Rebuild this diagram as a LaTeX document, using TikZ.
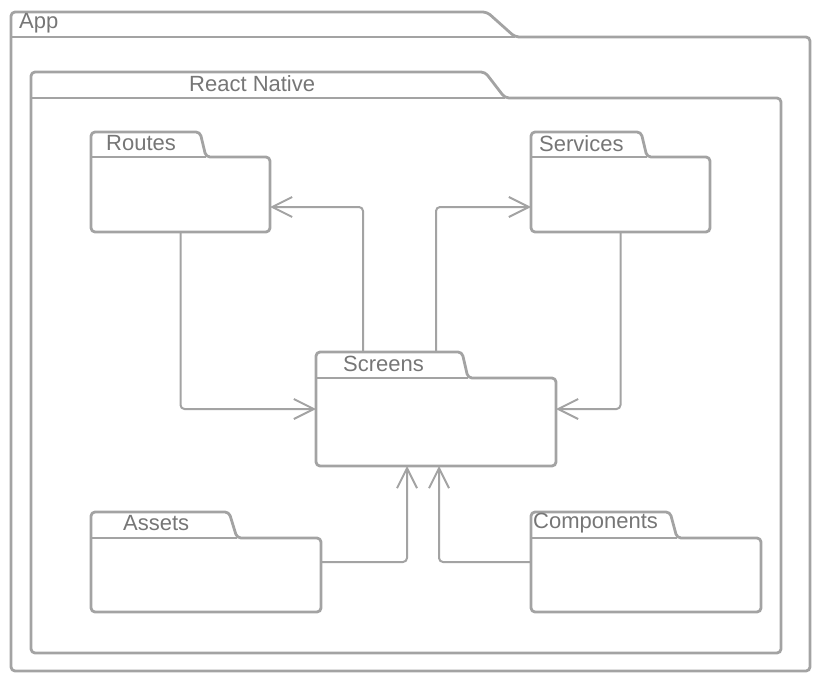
\documentclass[tikz,border=0pt]{standalone}
\usepackage{fontspec}
\setmainfont{Liberation Sans}
\usetikzlibrary{arrows.meta}
\definecolor{lineg}{HTML}{A3A3A3}
\definecolor{textg}{HTML}{767676}
\tikzset{
  folderline/.style={draw=lineg, line width=2.8pt, rounded corners=4pt, line join=round},
  folderbox/.style={inner sep=0pt, outer sep=0pt},
  foldertext/.style={anchor=west, inner sep=0pt, text=textg, font=\fontsize{22pt}{24pt}\selectfont},
  conn/.style={draw=lineg, line width=2pt, rounded corners=4pt, -{Straight Barb[length=20pt,width=20pt,line width=2pt]}},
}
% name, x1, ytab, xtab, xslant, ybody, x2, y2
\newcommand\pkgfolder[8]{%
  \draw[folderline] (#2,#6) -- (#2,#3) -- (#4,#3) -- (#5,#6) -- (#7,#6) -- (#7,#8) -- (#2,#8) -- cycle;
  \draw[draw=lineg, line width=2.8pt] (#2,#6) -- (#5,#6);
  \pgfmathsetmacro\fw{#7-#2}\pgfmathsetmacro\fh{#8-#3}%
  \node[folderbox, minimum width=\fw pt, minimum height=\fh pt] (#1) at ({(#2+#7)/2},{(#3+#8)/2}) {};
}
\begin{document}
\begin{tikzpicture}[x=1pt,y=-1pt]
\useasboundingbox (0,0) rectangle (818,682);
\pkgfolder{app}{11}{12}{487}{515}{37}{810}{671}
\pkgfolder{rn}{31}{72}{485}{505}{98}{781}{653}
\pkgfolder{routes}{91}{132}{200}{206}{157}{270}{232}
\pkgfolder{services}{531}{132}{641}{647}{157}{710}{232}
\pkgfolder{screens}{316}{352}{462}{468}{378}{556}{466}
\pkgfolder{assets}{91}{512}{229}{237}{538}{321}{612}
\pkgfolder{components}{531}{512}{670}{677}{538}{761}{612}
\node[foldertext] (lapp) at (19,23.5) {App};
\node[foldertext] (lrn) at (189,83.5) {React Native};
\node[foldertext] (lroutes) at (106,143.5) {Routes};
\node[foldertext] (lservices) at (539,143.5) {Services};
\node[foldertext] (lscreens) at (343,363.5) {Screens};
\node[foldertext] (lassets) at (123,523.5) {Assets};
\node[foldertext] (lcomponents) at (533,523.5) {Components};
\draw[conn] (routes.south) |- (screens.west);
\draw[conn] (services.south) |- (screens.east);
\draw[conn] ([xshift=-73pt]screens.north) |- ([yshift=-25pt]routes.east);
\draw[conn] (screens.north) |- ([yshift=-25pt]services.west);
\draw[conn] (assets.east) -| ([xshift=-29pt]screens.south);
\draw[conn] (components.west) -| ([xshift=3pt]screens.south);
\end{tikzpicture}
\end{document}
